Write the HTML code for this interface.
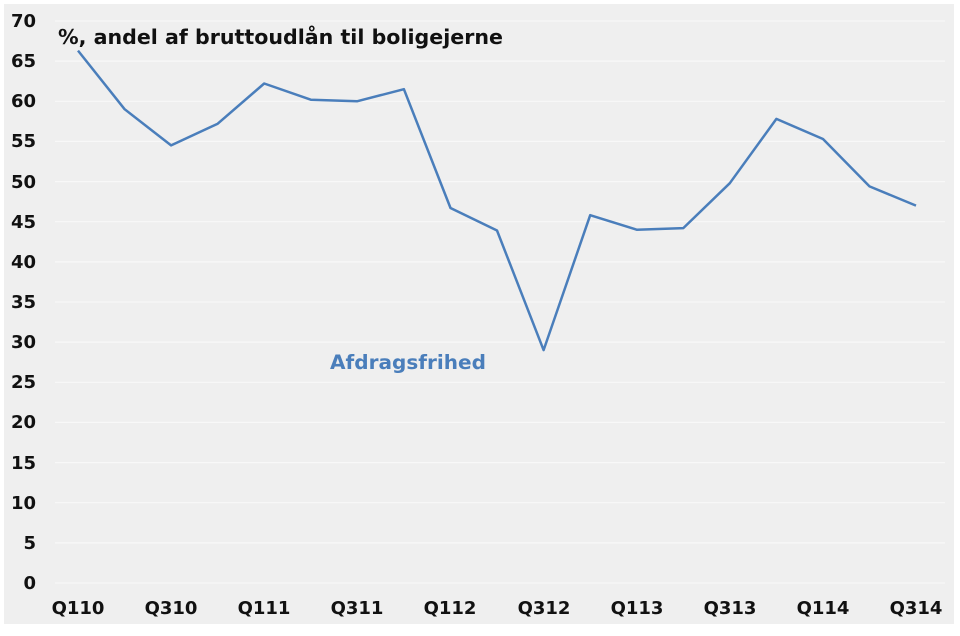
<!DOCTYPE html>
<html><head><meta charset="utf-8"><style>
html,body{margin:0;padding:0;background:#fff;}
</style></head><body>
<svg width="960" height="631" xmlns="http://www.w3.org/2000/svg" font-family="'DejaVu Sans',Verdana,sans-serif" font-weight="bold">
<rect x="4" y="4" width="950" height="620" fill="#efefef"/>
<g stroke="#f8f8f8" stroke-width="1.2">
<line x1="55" x2="945" y1="21" y2="21"/><line x1="55" x2="945" y1="61.1" y2="61.1"/><line x1="55" x2="945" y1="101.3" y2="101.3"/><line x1="55" x2="945" y1="141.4" y2="141.4"/><line x1="55" x2="945" y1="181.6" y2="181.6"/><line x1="55" x2="945" y1="221.7" y2="221.7"/><line x1="55" x2="945" y1="261.9" y2="261.9"/><line x1="55" x2="945" y1="302" y2="302"/><line x1="55" x2="945" y1="342.1" y2="342.1"/><line x1="55" x2="945" y1="382.3" y2="382.3"/><line x1="55" x2="945" y1="422.4" y2="422.4"/><line x1="55" x2="945" y1="462.6" y2="462.6"/><line x1="55" x2="945" y1="502.7" y2="502.7"/><line x1="55" x2="945" y1="542.9" y2="542.9"/><line x1="55" x2="945" y1="583" y2="583"/>
</g>
<g font-size="18" fill="#111" text-anchor="end">
<text x="36" y="27">70</text><text x="36" y="67">65</text><text x="36" y="107">60</text><text x="36" y="147">55</text><text x="36" y="188">50</text><text x="36" y="228">45</text><text x="36" y="268">40</text><text x="36" y="308">35</text><text x="36" y="348">30</text><text x="36" y="388">25</text><text x="36" y="428">20</text><text x="36" y="469">15</text><text x="36" y="509">10</text><text x="36" y="549">5</text><text x="36" y="589">0</text>
</g>
<g font-size="18" fill="#111" text-anchor="middle">
<text x="78" y="614">Q110</text><text x="171" y="614">Q310</text><text x="264" y="614">Q111</text><text x="357" y="614">Q311</text><text x="450" y="614">Q112</text><text x="544" y="614">Q312</text><text x="637" y="614">Q113</text><text x="730" y="614">Q313</text><text x="823" y="614">Q114</text><text x="916" y="614">Q314</text>
</g>
<text x="58" y="44" font-size="20.5" fill="#111" textLength="445" lengthAdjust="spacingAndGlyphs">%, andel af bruttoudlån til boligejerne</text>
<text x="330" y="369" font-size="19.5" fill="#4a7ebb" textLength="156" lengthAdjust="spacingAndGlyphs">Afdragsfrihed</text>
<polyline fill="none" stroke="#4a7ebb" stroke-width="2.5" stroke-linejoin="round"
points="78,50.6 124.6,109.2 171.1,145.4 217.7,123.7 264.2,83.5 310.8,99.7 357.4,101.2 403.9,89.2 450.5,208 497,230.5 543.6,350.1 590.2,215.2 636.7,229.7 683.3,228.1 729.8,183.2 776.4,118.9 823,139 869.5,186.4 916,205.6"/>
</svg>
</body></html>
